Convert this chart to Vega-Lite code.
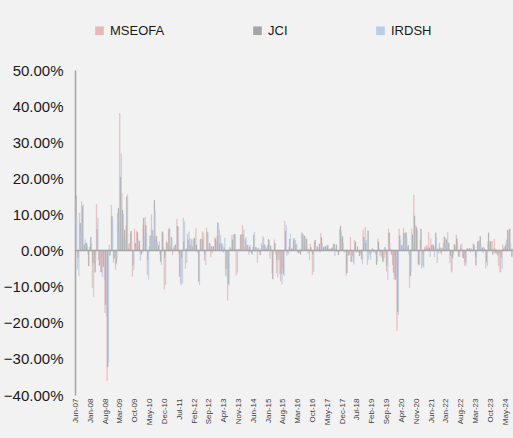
{
"$schema":"https://vega.github.io/schema/vega-lite/v6.json",
"width":438,"height":325,
"autosize":{"type":"none"},
"padding":{"left":75,"top":70,"right":0,"bottom":43},
"background":"#f2f2f2",
"config":{"view":{"stroke":null},"font":"Liberation Sans"},
"data":{"values":[
{"m":"Jun-07","MSEOFA":14.0,"JCI":15.2,"IRDSH":9.5},
{"m":"Jul-07","MSEOFA":-5.2,"JCI":-2.0,"IRDSH":-7.0},
{"m":"Aug-07","MSEOFA":10.4,"JCI":7.6,"IRDSH":5.0},
{"m":"Sep-07","MSEOFA":13.6,"JCI":12.2,"IRDSH":12.7},
{"m":"Oct-07","MSEOFA":1.5,"JCI":1.7,"IRDSH":3.0},
{"m":"Nov-07","MSEOFA":2.0,"JCI":2.1,"IRDSH":1.5},
{"m":"Dec-07","MSEOFA":-1.0,"JCI":-4.3,"IRDSH":1.0},
{"m":"Jan-08","MSEOFA":1.0,"JCI":3.7,"IRDSH":1.8},
{"m":"Feb-08","MSEOFA":-10.4,"JCI":-3.5,"IRDSH":-12.7},
{"m":"Mar-08","MSEOFA":-3.5,"JCI":-6.0,"IRDSH":-3.0},
{"m":"Apr-08","MSEOFA":12.8,"JCI":5.9,"IRDSH":9.0},
{"m":"May-08","MSEOFA":-2.5,"JCI":-4.1,"IRDSH":-1.8},
{"m":"Jun-08","MSEOFA":-5.8,"JCI":-6.0,"IRDSH":-7.2},
{"m":"Jul-08","MSEOFA":-4.0,"JCI":-4.5,"IRDSH":-8.0},
{"m":"Aug-08","MSEOFA":-17.2,"JCI":-15.0,"IRDSH":-18.2},
{"m":"Sep-08","MSEOFA":-36.0,"JCI":-32.2,"IRDSH":-31.0},
{"m":"Oct-08","MSEOFA":1.6,"JCI":-1.4,"IRDSH":-0.5},
{"m":"Nov-08","MSEOFA":12.6,"JCI":9.4,"IRDSH":8.4},
{"m":"Dec-08","MSEOFA":-3.3,"JCI":-2.1,"IRDSH":-1.0},
{"m":"Jan-09","MSEOFA":-5.3,"JCI":-3.5,"IRDSH":-2.0},
{"m":"Feb-09","MSEOFA":10.3,"JCI":11.7,"IRDSH":5.0},
{"m":"Mar-09","MSEOFA":38.0,"JCI":20.4,"IRDSH":26.8},
{"m":"Apr-09","MSEOFA":15.8,"JCI":11.2,"IRDSH":10.0},
{"m":"May-09","MSEOFA":4.0,"JCI":5.7,"IRDSH":3.0},
{"m":"Jun-09","MSEOFA":7.0,"JCI":14.9,"IRDSH":15.5},
{"m":"Jul-09","MSEOFA":1.8,"JCI":0.5,"IRDSH":2.0},
{"m":"Aug-09","MSEOFA":4.8,"JCI":5.4,"IRDSH":2.0},
{"m":"Sep-09","MSEOFA":-7.2,"JCI":-4.1,"IRDSH":-5.3},
{"m":"Oct-09","MSEOFA":6.0,"JCI":2.0,"IRDSH":1.0},
{"m":"Nov-09","MSEOFA":5.5,"JCI":5.0,"IRDSH":3.0},
{"m":"Dec-09","MSEOFA":1.0,"JCI":2.6,"IRDSH":-2.8},
{"m":"Jan-10","MSEOFA":-0.5,"JCI":-1.0,"IRDSH":-0.5},
{"m":"Feb-10","MSEOFA":7.0,"JCI":9.0,"IRDSH":4.0},
{"m":"Mar-10","MSEOFA":9.3,"JCI":7.0,"IRDSH":5.0},
{"m":"Apr-10","MSEOFA":-6.6,"JCI":-2.5,"IRDSH":-8.0},
{"m":"May-10","MSEOFA":1.0,"JCI":4.1,"IRDSH":2.0},
{"m":"Jun-10","MSEOFA":10.0,"JCI":5.6,"IRDSH":5.6},
{"m":"Jul-10","MSEOFA":4.0,"JCI":13.9,"IRDSH":10.8},
{"m":"Aug-10","MSEOFA":3.0,"JCI":4.0,"IRDSH":2.5},
{"m":"Sep-10","MSEOFA":0.5,"JCI":1.5,"IRDSH":2.5},
{"m":"Oct-10","MSEOFA":-1.0,"JCI":-3.0,"IRDSH":-3.9},
{"m":"Nov-10","MSEOFA":5.3,"JCI":5.0,"IRDSH":1.0},
{"m":"Dec-10","MSEOFA":-10.7,"JCI":-2.0,"IRDSH":-9.4},
{"m":"Jan-11","MSEOFA":2.6,"JCI":2.1,"IRDSH":0.5},
{"m":"Feb-11","MSEOFA":5.8,"JCI":6.1,"IRDSH":5.7},
{"m":"Mar-11","MSEOFA":1.0,"JCI":3.7,"IRDSH":3.2},
{"m":"Apr-11","MSEOFA":-1.2,"JCI":0.5,"IRDSH":1.3},
{"m":"May-11","MSEOFA":0.8,"JCI":1.6,"IRDSH":0.4},
{"m":"Jun-11","MSEOFA":8.7,"JCI":6.8,"IRDSH":6.5},
{"m":"Jul-11","MSEOFA":-1.0,"JCI":-7.2,"IRDSH":-9.0},
{"m":"Aug-11","MSEOFA":-9.5,"JCI":-2.0,"IRDSH":-9.0},
{"m":"Sep-11","MSEOFA":9.0,"JCI":2.5,"IRDSH":8.0},
{"m":"Oct-11","MSEOFA":-5.0,"JCI":0.5,"IRDSH":-3.3},
{"m":"Nov-11","MSEOFA":4.6,"JCI":3.0,"IRDSH":5.2},
{"m":"Dec-11","MSEOFA":3.5,"JCI":1.5,"IRDSH":3.2},
{"m":"Jan-12","MSEOFA":3.0,"JCI":1.1,"IRDSH":3.0},
{"m":"Feb-12","MSEOFA":3.2,"JCI":3.5,"IRDSH":1.5},
{"m":"Mar-12","MSEOFA":6.2,"JCI":1.6,"IRDSH":-0.5},
{"m":"Apr-12","MSEOFA":-0.5,"JCI":-8.5,"IRDSH":-9.5},
{"m":"May-12","MSEOFA":3.0,"JCI":3.2,"IRDSH":2.0},
{"m":"Jun-12","MSEOFA":5.2,"JCI":3.0,"IRDSH":4.8},
{"m":"Jul-12","MSEOFA":-2.8,"JCI":-1.0,"IRDSH":-4.0},
{"m":"Aug-12","MSEOFA":6.3,"JCI":5.1,"IRDSH":5.2},
{"m":"Sep-12","MSEOFA":0.5,"JCI":2.0,"IRDSH":2.0},
{"m":"Oct-12","MSEOFA":-1.8,"JCI":1.1,"IRDSH":-0.8},
{"m":"Nov-12","MSEOFA":1.0,"JCI":1.1,"IRDSH":0.5},
{"m":"Dec-12","MSEOFA":3.7,"JCI":3.1,"IRDSH":2.5},
{"m":"Jan-13","MSEOFA":4.0,"JCI":7.7,"IRDSH":7.5},
{"m":"Feb-13","MSEOFA":5.7,"JCI":2.0,"IRDSH":4.3},
{"m":"Mar-13","MSEOFA":2.0,"JCI":1.5,"IRDSH":1.8},
{"m":"Apr-13","MSEOFA":-0.5,"JCI":0.9,"IRDSH":3.5},
{"m":"May-13","MSEOFA":-7.0,"JCI":-5.0,"IRDSH":-7.2},
{"m":"Jun-13","MSEOFA":-13.8,"JCI":-9.2,"IRDSH":-9.6},
{"m":"Jul-13","MSEOFA":1.0,"JCI":0.5,"IRDSH":0.3},
{"m":"Aug-13","MSEOFA":4.3,"JCI":3.0,"IRDSH":4.5},
{"m":"Sep-13","MSEOFA":0.5,"JCI":4.5,"IRDSH":4.5},
{"m":"Oct-13","MSEOFA":-6.8,"JCI":0.3,"IRDSH":-6.0},
{"m":"Nov-13","MSEOFA":0.3,"JCI":0.2,"IRDSH":0.5},
{"m":"Dec-13","MSEOFA":4.4,"JCI":4.4,"IRDSH":2.0},
{"m":"Jan-14","MSEOFA":7.0,"JCI":4.6,"IRDSH":5.7},
{"m":"Feb-14","MSEOFA":1.0,"JCI":3.1,"IRDSH":3.7},
{"m":"Mar-14","MSEOFA":1.5,"JCI":1.5,"IRDSH":1.5},
{"m":"Apr-14","MSEOFA":-1.1,"JCI":1.0,"IRDSH":1.5},
{"m":"May-14","MSEOFA":-0.3,"JCI":-0.8,"IRDSH":-1.1},
{"m":"Jun-14","MSEOFA":1.0,"JCI":4.3,"IRDSH":5.1},
{"m":"Jul-14","MSEOFA":-0.3,"JCI":0.9,"IRDSH":0.5},
{"m":"Aug-14","MSEOFA":-3.3,"JCI":0.6,"IRDSH":0.6},
{"m":"Sep-14","MSEOFA":-0.5,"JCI":-1.2,"IRDSH":0.5},
{"m":"Oct-14","MSEOFA":2.0,"JCI":1.4,"IRDSH":3.9},
{"m":"Nov-14","MSEOFA":3.5,"JCI":1.6,"IRDSH":1.4},
{"m":"Dec-14","MSEOFA":0.8,"JCI":0.5,"IRDSH":1.4},
{"m":"Jan-15","MSEOFA":1.5,"JCI":3.1,"IRDSH":2.8},
{"m":"Feb-15","MSEOFA":-2.2,"JCI":1.3,"IRDSH":0.3},
{"m":"Mar-15","MSEOFA":-6.2,"JCI":-7.9,"IRDSH":-0.5},
{"m":"Apr-15","MSEOFA":3.0,"JCI":2.0,"IRDSH":-1.0},
{"m":"May-15","MSEOFA":-6.2,"JCI":-2.5,"IRDSH":-7.4},
{"m":"Jun-15","MSEOFA":-1.0,"JCI":-2.6,"IRDSH":-6.5},
{"m":"Jul-15","MSEOFA":-8.5,"JCI":-6.5,"IRDSH":-9.3},
{"m":"Aug-15","MSEOFA":-5.0,"JCI":-6.4,"IRDSH":-7.0},
{"m":"Sep-15","MSEOFA":8.2,"JCI":5.4,"IRDSH":7.0},
{"m":"Oct-15","MSEOFA":-1.4,"JCI":-0.5,"IRDSH":-1.0},
{"m":"Nov-15","MSEOFA":1.0,"JCI":3.2,"IRDSH":4.6},
{"m":"Dec-15","MSEOFA":0.5,"JCI":0.5,"IRDSH":0.2},
{"m":"Jan-16","MSEOFA":2.7,"JCI":3.4,"IRDSH":2.9},
{"m":"Feb-16","MSEOFA":2.9,"JCI":1.6,"IRDSH":1.8},
{"m":"Mar-16","MSEOFA":-0.3,"JCI":-0.7,"IRDSH":0.2},
{"m":"Apr-16","MSEOFA":-0.5,"JCI":-1.0,"IRDSH":0.5},
{"m":"May-16","MSEOFA":5.0,"JCI":4.6,"IRDSH":4.6},
{"m":"Jun-16","MSEOFA":3.0,"JCI":4.0,"IRDSH":3.7},
{"m":"Jul-16","MSEOFA":1.0,"JCI":3.2,"IRDSH":0.5},
{"m":"Aug-16","MSEOFA":-0.8,"JCI":0.3,"IRDSH":-2.6},
{"m":"Sep-16","MSEOFA":1.8,"JCI":0.9,"IRDSH":-0.3},
{"m":"Oct-16","MSEOFA":-6.7,"JCI":-1.0,"IRDSH":-5.8},
{"m":"Nov-16","MSEOFA":2.4,"JCI":2.9,"IRDSH":1.1},
{"m":"Dec-16","MSEOFA":-0.3,"JCI":1.1,"IRDSH":0.4},
{"m":"Jan-17","MSEOFA":0.5,"JCI":1.8,"IRDSH":-0.5},
{"m":"Feb-17","MSEOFA":4.8,"JCI":3.6,"IRDSH":2.0},
{"m":"Mar-17","MSEOFA":0.5,"JCI":0.9,"IRDSH":0.9},
{"m":"Apr-17","MSEOFA":1.1,"JCI":1.1,"IRDSH":1.4},
{"m":"May-17","MSEOFA":0.8,"JCI":1.5,"IRDSH":0.5},
{"m":"Jun-17","MSEOFA":0.3,"JCI":0.4,"IRDSH":0.5},
{"m":"Jul-17","MSEOFA":0.5,"JCI":0.8,"IRDSH":0.3},
{"m":"Aug-17","MSEOFA":1.8,"JCI":1.8,"IRDSH":-1.5},
{"m":"Sep-17","MSEOFA":0.5,"JCI":1.6,"IRDSH":-0.2},
{"m":"Oct-17","MSEOFA":-0.3,"JCI":-1.2,"IRDSH":-0.4},
{"m":"Nov-17","MSEOFA":5.9,"JCI":6.8,"IRDSH":5.2},
{"m":"Dec-17","MSEOFA":3.0,"JCI":3.9,"IRDSH":2.0},
{"m":"Jan-18","MSEOFA":-0.5,"JCI":-0.2,"IRDSH":-0.3},
{"m":"Feb-18","MSEOFA":-6.9,"JCI":-6.2,"IRDSH":-1.0},
{"m":"Mar-18","MSEOFA":-1.5,"JCI":-1.0,"IRDSH":-1.2},
{"m":"Apr-18","MSEOFA":3.7,"JCI":-3.1,"IRDSH":-1.5},
{"m":"May-18","MSEOFA":-1.5,"JCI":-3.1,"IRDSH":-3.8},
{"m":"Jun-18","MSEOFA":2.9,"JCI":2.4,"IRDSH":-0.5},
{"m":"Jul-18","MSEOFA":-0.5,"JCI":1.1,"IRDSH":-0.3},
{"m":"Aug-18","MSEOFA":-0.7,"JCI":-1.5,"IRDSH":-0.9},
{"m":"Sep-18","MSEOFA":-1.0,"JCI":-2.4,"IRDSH":-3.7},
{"m":"Oct-18","MSEOFA":5.7,"JCI":3.7,"IRDSH":2.9},
{"m":"Nov-18","MSEOFA":6.4,"JCI":2.0,"IRDSH":2.9},
{"m":"Dec-18","MSEOFA":-3.9,"JCI":5.5,"IRDSH":-2.5},
{"m":"Jan-19","MSEOFA":-0.5,"JCI":-1.1,"IRDSH":-2.5},
{"m":"Feb-19","MSEOFA":-0.5,"JCI":0.6,"IRDSH":0.3},
{"m":"Mar-19","MSEOFA":-0.3,"JCI":-0.3,"IRDSH":-0.6},
{"m":"Apr-19","MSEOFA":-1.0,"JCI":-3.9,"IRDSH":-3.0},
{"m":"May-19","MSEOFA":3.3,"JCI":2.3,"IRDSH":0.5},
{"m":"Jun-19","MSEOFA":-1.6,"JCI":-0.5,"IRDSH":-1.5},
{"m":"Jul-19","MSEOFA":-2.0,"JCI":-3.0,"IRDSH":-3.2},
{"m":"Aug-19","MSEOFA":-2.0,"JCI":0.9,"IRDSH":-1.0},
{"m":"Sep-19","MSEOFA":-5.7,"JCI":-4.2,"IRDSH":-8.1},
{"m":"Oct-19","MSEOFA":6.0,"JCI":4.9,"IRDSH":2.0},
{"m":"Nov-19","MSEOFA":0.5,"JCI":-1.0,"IRDSH":-0.5},
{"m":"Dec-19","MSEOFA":-4.0,"JCI":-6.1,"IRDSH":-8.0},
{"m":"Jan-20","MSEOFA":-7.0,"JCI":-8.0,"IRDSH":-7.5},
{"m":"Feb-20","MSEOFA":-22.2,"JCI":-17.0,"IRDSH":-17.8},
{"m":"Mar-20","MSEOFA":6.0,"JCI":4.1,"IRDSH":2.8},
{"m":"Apr-20","MSEOFA":1.0,"JCI":1.5,"IRDSH":1.0},
{"m":"May-20","MSEOFA":6.2,"JCI":4.8,"IRDSH":3.5},
{"m":"Jun-20","MSEOFA":4.9,"JCI":4.9,"IRDSH":3.5},
{"m":"Jul-20","MSEOFA":1.0,"JCI":1.4,"IRDSH":-1.0},
{"m":"Aug-20","MSEOFA":-10.3,"JCI":-7.0,"IRDSH":-5.7},
{"m":"Sep-20","MSEOFA":6.0,"JCI":4.4,"IRDSH":1.8},
{"m":"Oct-20","MSEOFA":15.4,"JCI":9.6,"IRDSH":6.6},
{"m":"Nov-20","MSEOFA":7.0,"JCI":6.3,"IRDSH":5.5},
{"m":"Dec-20","MSEOFA":-4.0,"JCI":-3.7,"IRDSH":-3.9},
{"m":"Jan-21","MSEOFA":3.0,"JCI":6.0,"IRDSH":-5.0},
{"m":"Feb-21","MSEOFA":-1.0,"JCI":-4.2,"IRDSH":-4.8},
{"m":"Mar-21","MSEOFA":1.0,"JCI":0.5,"IRDSH":1.2},
{"m":"Apr-21","MSEOFA":1.4,"JCI":0.7,"IRDSH":1.2},
{"m":"May-21","MSEOFA":5.1,"JCI":0.7,"IRDSH":-1.8},
{"m":"Jun-21","MSEOFA":3.3,"JCI":1.4,"IRDSH":1.6},
{"m":"Jul-21","MSEOFA":1.6,"JCI":1.4,"IRDSH":-1.8},
{"m":"Aug-21","MSEOFA":1.0,"JCI":4.9,"IRDSH":3.5},
{"m":"Sep-21","MSEOFA":-3.4,"JCI":0.5,"IRDSH":-0.8},
{"m":"Oct-21","MSEOFA":2.0,"JCI":0.8,"IRDSH":-0.6},
{"m":"Nov-21","MSEOFA":-1.0,"JCI":0.7,"IRDSH":0.8},
{"m":"Dec-21","MSEOFA":2.0,"JCI":3.8,"IRDSH":1.0},
{"m":"Jan-22","MSEOFA":3.5,"JCI":3.0,"IRDSH":2.1},
{"m":"Feb-22","MSEOFA":5.1,"JCI":2.1,"IRDSH":2.0},
{"m":"Mar-22","MSEOFA":-3.4,"JCI":-1.4,"IRDSH":-6.0},
{"m":"Apr-22","MSEOFA":-5.7,"JCI":-2.0,"IRDSH":-1.0},
{"m":"May-22","MSEOFA":1.6,"JCI":1.6,"IRDSH":1.0},
{"m":"Jun-22","MSEOFA":4.4,"JCI":3.3,"IRDSH":2.1},
{"m":"Jul-22","MSEOFA":-1.5,"JCI":-1.7,"IRDSH":-1.0},
{"m":"Aug-22","MSEOFA":1.6,"JCI":0.7,"IRDSH":1.9},
{"m":"Sep-22","MSEOFA":-1.7,"JCI":-2.1,"IRDSH":-1.0},
{"m":"Oct-22","MSEOFA":-4.2,"JCI":-3.2,"IRDSH":-4.1},
{"m":"Nov-22","MSEOFA":0.5,"JCI":0.6,"IRDSH":0.3},
{"m":"Dec-22","MSEOFA":0.3,"JCI":0.6,"IRDSH":-0.5},
{"m":"Jan-23","MSEOFA":0.6,"JCI":0.2,"IRDSH":-0.3},
{"m":"Feb-23","MSEOFA":1.9,"JCI":1.6,"IRDSH":1.4},
{"m":"Mar-23","MSEOFA":-1.7,"JCI":-4.1,"IRDSH":-2.0},
{"m":"Apr-23","MSEOFA":2.5,"JCI":2.5,"IRDSH":0.5},
{"m":"May-23","MSEOFA":2.8,"JCI":3.9,"IRDSH":1.6},
{"m":"Jun-23","MSEOFA":0.5,"JCI":0.8,"IRDSH":-0.6},
{"m":"Jul-23","MSEOFA":1.0,"JCI":0.5,"IRDSH":0.3},
{"m":"Aug-23","MSEOFA":-5.0,"JCI":-3.2,"IRDSH":-4.3},
{"m":"Sep-23","MSEOFA":2.4,"JCI":4.9,"IRDSH":1.6},
{"m":"Oct-23","MSEOFA":2.6,"JCI":2.5,"IRDSH":0.5},
{"m":"Nov-23","MSEOFA":2.6,"JCI":-1.1,"IRDSH":0.5},
{"m":"Dec-23","MSEOFA":3.2,"JCI":-0.7,"IRDSH":0.5},
{"m":"Jan-24","MSEOFA":-0.5,"JCI":-1.0,"IRDSH":-1.5},
{"m":"Feb-24","MSEOFA":-4.2,"JCI":-1.0,"IRDSH":-5.8},
{"m":"Mar-24","MSEOFA":-6.0,"JCI":-2.0,"IRDSH":-5.0},
{"m":"Apr-24","MSEOFA":1.6,"JCI":0.5,"IRDSH":1.0},
{"m":"May-24","MSEOFA":1.0,"JCI":1.5,"IRDSH":3.0},
{"m":"Jun-24","MSEOFA":2.0,"JCI":5.7,"IRDSH":5.0},
{"m":"Jul-24","MSEOFA":5.8,"JCI":6.0,"IRDSH":2.0},
{"m":"Aug-24","MSEOFA":0.5,"JCI":-1.7,"IRDSH":0.5}
]},
"transform":[{"fold":["MSEOFA","JCI","IRDSH"],"as":["s","v"]}],
"layer":[
{"mark":{"type":"bar","strokeWidth":0.3},
"encoding":{
"x":{"field":"m","type":"nominal","sort":null,"scale":{"paddingInner":0,"paddingOuter":0},
"axis":{"title":null,"values":["Jun-07","Jan-08","Aug-08","Mar-09","Oct-09","May-10","Dec-10","Jul-11","Feb-12","Sep-12","Apr-13","Nov-13","Jun-14","Jan-15","Aug-15","Mar-16","Oct-16","May-17","Dec-17","Jul-18","Feb-19","Sep-19","Apr-20","Nov-20","Jun-21","Jan-22","Aug-22","Mar-23","Oct-23","May-24"],
"labelAngle":270,"labelFontSize":8,"labelColor":"#404040","domain":false,"ticks":false,"labelPadding":3,"labelOverlap":false}},
"xOffset":{"field":"s","type":"nominal","sort":["MSEOFA","JCI","IRDSH"],"scale":{"paddingInner":0,"paddingOuter":0}},
"y":{"field":"v","type":"quantitative","scale":{"domain":[-40,50],"nice":false},
"axis":{"title":null,"tickCount":10,"labelExpr":"format(datum.value,'.2f')+'%'","labelOverlap":"greedy","labelSeparation":-30,"grid":false,"ticks":false,"domainColor":"#a6a6a6","domainWidth":1.5,"labelFontSize":15,"labelColor":"#1a1a1a","labelPadding":12}},
"color":{"field":"s","type":"nominal","scale":{"domain":["MSEOFA","JCI","IRDSH"],"range":["#E6B9B8","#A5A5A5","#B9CDE5"]},
"legend":{"title":null,"orient":"none","legendX":18,"legendY":-46,"direction":"horizontal","columns":3,"symbolType":"square","symbolSize":75,"symbolStrokeWidth":0,"labelFontSize":13,"labelColor":"#1a1a1a","labelOffset":4,"columnPadding":86,"padding":0}},
"stroke":{"field":"s","type":"nominal","scale":{"domain":["MSEOFA","JCI","IRDSH"],"range":["#E6B9B8","#A5A5A5","#B9CDE5"]},"legend":null}
}},
{"transform":[{"filter":"datum.m == 'Jun-07' && datum.s == 'JCI'"}],
"mark":{"type":"rule","color":"#a6a6a6","strokeWidth":1.5},
"encoding":{"y":{"datum":0}}}
]
}
